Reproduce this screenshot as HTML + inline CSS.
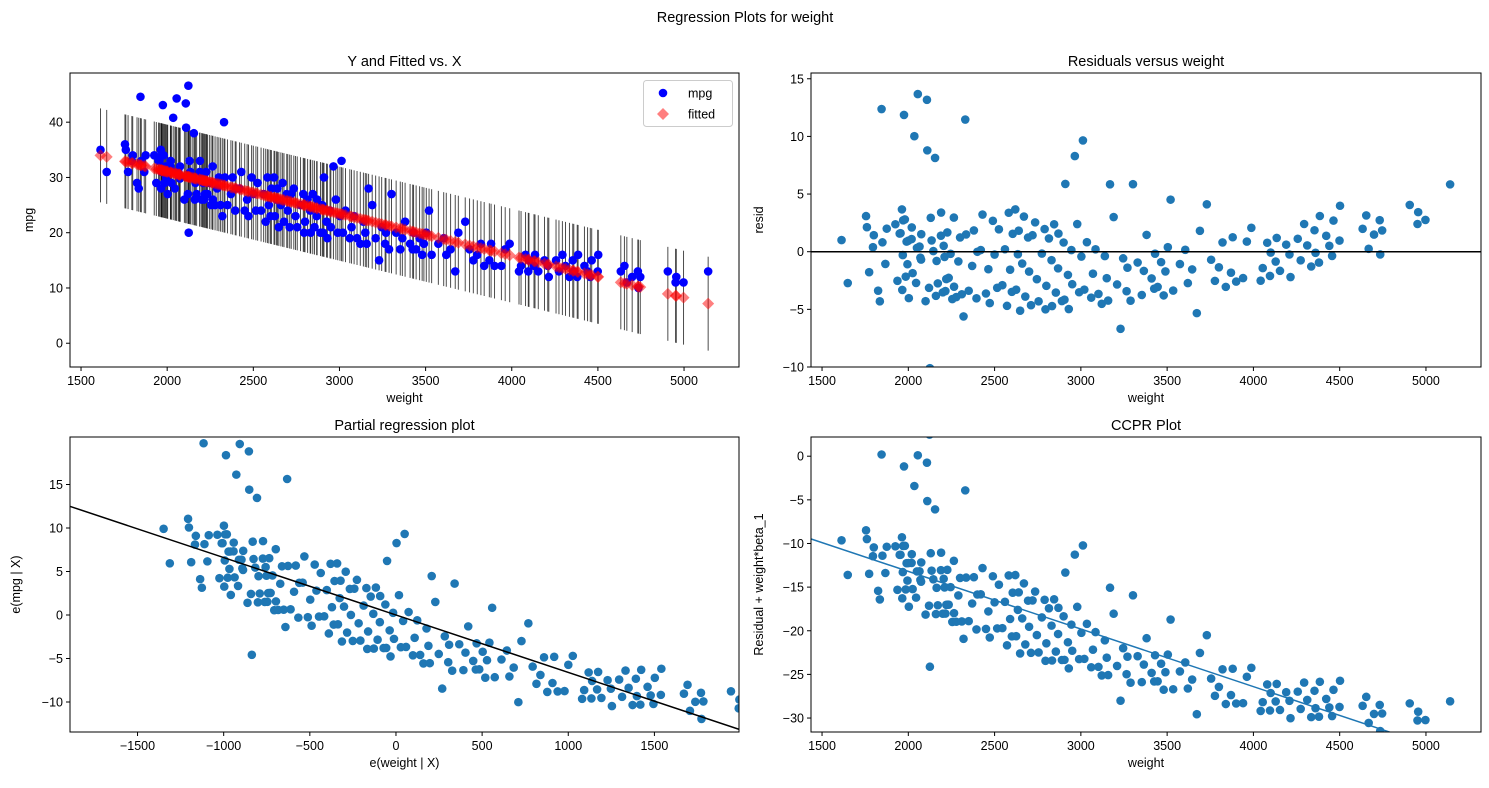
<!DOCTYPE html>
<html><head><meta charset="utf-8">
<style>
html,body{margin:0;padding:0;background:#fff;overflow:hidden;width:1489px;height:788px;}
svg{display:block;font-family:"Liberation Sans","DejaVu Sans",sans-serif;}
</style></head>
<body>
<svg id="fig" width="1489" height="788" viewBox="0 0 1489 788" xmlns="http://www.w3.org/2000/svg">
<rect width="1489" height="788" fill="#fff"/>
<text x="745" y="22" font-size="14.5" text-anchor="middle">Regression Plots for weight</text>
</svg>
<script>
// auto-mpg style data: weight, mpg
const weights = [1613,1649,1755,1760,1773,1795,1800,1825,1835,1845,1850,1867,1875,1925,1937,1950,1955,1963,1965,1968,1970,1975,1980,1985,1990,1995,2000,2003,2019,2020,2025,2035,2045,2050,2055,2065,2070,2074,2075,2100,2108,2110,2120,2123,2125,2130,2135,2145,2155,2160,2164,2171,2189,2190,2200,2205,2210,2215,2220,2226,2228,2234,2245,2255,2264,2265,2278,2290,2300,2310,2320,2330,2335,2350,2370,2380,2395,2400,2420,2430,2450,2464,2472,2490,2500,2515,2525,2545,2560,2572,2582,2590,2600,2605,2620,2625,2635,2640,2648,2660,2670,2678,2694,2700,2711,2720,2735,2745,2755,2774,2790,2795,2800,2815,2830,2833,2845,2855,2868,2870,2890,2900,2905,2910,2925,2930,2945,2950,2965,2979,2990,3003,3012,3020,3035,3060,3070,3085,3102,3121,3139,3150,3158,3169,3190,3210,3230,3245,3265,3270,3288,3302,3329,3353,3365,3381,3410,3425,3430,3445,3465,3480,3490,3504,3520,3535,3574,3605,3620,3645,3672,3690,3730,3755,3777,3800,3821,3840,3870,3880,3900,3940,3962,3988,4042,4054,4080,4096,4100,4129,4135,4154,4190,4209,4215,4257,4274,4294,4312,4335,4354,4360,4380,4385,4422,4440,4456,4464,4499,4502,4633,4654,4668,4699,4732,4735,4746,4906,4951,4955,4997,5140];
const mpgs = [35,31,36,35,31,33,34,29,28,44.6,33,31,34,34,29,33,33,35,28,31,34,43.1,34,29,32,30,32,27,32,33,29,40.8,28,31,44.3,31,30,29.8,32,26,43.4,39,27,46.6,20,33,31,30,38,26,29,27,31,33,26,30,29,26,27,31,27,27,29,25,32,26,25,28,30,25,23,40,30,25,27,30,24,28,28,31,24,26,23,30,27,24,29,24,27,22,30,25,23,28,30,23,26,28,21,25,29,22,27,24,21,27,28,23,21,25,27,20,22,26,24,20,27,21,23,26,20,25,20,30,22,19,24,21,32,26,20,23,33,20,24,19,21,23,19,18,22,20,18,28,25,19,15,21,18,20,17,27,20,17,19,22,18,17,20,17,19,16,18,20,24,16,18,19,16,17,13,20,22,17,15,16,18,14,15,18,14,14,17,18,13,14,16,13,15,14,16,13,15,14,12,15,13,16,14,12,15,13,12,16,14,13,12,15,13,16,13,14,11,12,13,10,12,13,11,12,11,13];
// model coefficient of weight in the multivariate fit (partial slope)
const betaPartial = -0.0066;
const xTicksW = [1500,2000,2500,3000,3500,4000,4500,5000];
const yTicksMpg = [0,10,20,30,40];
const yTicksResid = [-10,-5,0,5,10,15];
const xTicksPart = [-1500,-1000,-500,0,500,1000,1500];
const yTicksPart = [-10,-5,0,5,10,15];
const yTicksCcpr = [0,-5,-10,-15,-20,-25,-30];

const NS='http://www.w3.org/2000/svg';
const fig=document.getElementById('fig');
function mk(tag,attrs,parent){const e=document.createElementNS(NS,tag);for(const k in attrs)e.setAttribute(k,attrs[k]);(parent||fig).appendChild(e);return e;}

// OLS
const n=weights.length;
let mw=0,mm=0;for(let i=0;i<n;i++){mw+=weights[i];mm+=mpgs[i];}mw/=n;mm/=n;
let sxy=0,sxx=0;for(let i=0;i<n;i++){sxy+=(weights[i]-mw)*(mpgs[i]-mm);sxx+=(weights[i]-mw)**2;}
const beta=sxy/sxx, alpha=mm-beta*mw;
const fitted=weights.map(w=>alpha+beta*w);
const resid=mpgs.map((m,i)=>m-fitted[i]);

function axes(o){
  const g=mk('g',{});
  const sx=v=>o.x0+(v-o.xmin)/(o.xmax-o.xmin)*(o.x1-o.x0);
  const sy=v=>o.y1-(v-o.ymin)/(o.ymax-o.ymin)*(o.y1-o.y0);
  const cid='clip-'+o.name;
  const cp=mk('clipPath',{id:cid},g);mk('rect',{x:o.x0,y:o.y0,width:o.x1-o.x0,height:o.y1-o.y0},cp);
  const plot=mk('g',{'clip-path':'url(#'+cid+')'},g);
  
  o.draw(plot,sx,sy);
  mk('rect',{x:o.x0,y:o.y0,width:o.x1-o.x0,height:o.y1-o.y0,fill:'none',stroke:'#000','stroke-width':1},g);
  o.xticks.forEach(t=>{const X=sx(t);mk('line',{x1:X,x2:X,y1:o.y1,y2:o.y1+4,stroke:'#000'},g);
    const tx=mk('text',{x:X,y:o.y1+18,'font-size':12.5,'text-anchor':'middle'},g);tx.textContent=String(t).replace('-','−');
    });
  o.yticks.forEach(t=>{const Y=sy(t);mk('line',{x1:o.x0-4,x2:o.x0,y1:Y,y2:Y,stroke:'#000'},g);
    const tx=mk('text',{x:o.x0-7,y:Y+4.5,'font-size':12.5,'text-anchor':'end'},g);tx.textContent=String(t).replace('-','−');
    });
  const ti=mk('text',{x:(o.x0+o.x1)/2,y:o.y0-7,'font-size':14.5,'text-anchor':'middle'},g);ti.textContent=o.title;
  
  const xl=mk('text',{x:(o.x0+o.x1)/2,y:o.y1+35,'font-size':12.5,'text-anchor':'middle'},g);xl.textContent=o.xlabel;
  
  const yc=(o.y0+o.y1)/2;
  const yl=mk('text',{x:o.ylx,y:yc,'font-size':12.5,'text-anchor':'middle',transform:`rotate(-90 ${o.ylx} ${yc})`},g);yl.textContent=o.ylabel;
  
  return g;
}
function dot(p,x,y,fill){const c=mk('circle',{cx:x,cy:y,r:4.3,fill:fill},p);return c;}

// Panel 1
axes({name:'y-fitted-vs-x',x0:70,x1:739,y0:73,y1:367,xmin:1436,xmax:5319,ymin:-4.3,ymax:48.9,xticks:xTicksW,yticks:yTicksMpg,
 title:'Y and Fitted vs. X',xlabel:'weight',ylabel:'mpg',ylx:33,
 draw:(p,sx,sy)=>{
  weights.forEach((w,i)=>{const l=mk('line',{x1:sx(w),x2:sx(w),y1:sy(fitted[i]-8.5),y2:sy(fitted[i]+8.5),stroke:'#000','stroke-opacity':0.7,'stroke-width':1},p);
    });
  weights.forEach((w,i)=>dot(p,sx(w),sy(mpgs[i]),'#0000ff'));
  weights.forEach((w,i)=>{const X=sx(w),Y=sy(fitted[i]);const d=mk('polygon',{points:`${X},${Y-6} ${X+6},${Y} ${X},${Y+6} ${X-6},${Y}`,fill:'#ff0000','fill-opacity':0.5},p);
    });
 }});
(function(){const g=mk('g',{});
 mk('rect',{x:643.5,y:80.5,width:89,height:46,rx:3,fill:'#fff','fill-opacity':0.8,stroke:'#ccc'},g);
 mk('circle',{cx:663,cy:93,r:4.3,fill:'#0000ff'},g);
 mk('polygon',{points:'663,108 669,114 663,120 657,114',fill:'#ff0000','fill-opacity':0.5},g);
 const t1=mk('text',{x:688,y:97.5,'font-size':12.5},g);t1.textContent='mpg';
 const t2=mk('text',{x:688,y:118.5,'font-size':12.5},g);t2.textContent='fitted';
})();

// Panel 2
axes({name:'residuals-vs-weight',x0:811,x1:1481,y0:73,y1:367,xmin:1436,xmax:5319,ymin:-10,ymax:15.5,xticks:xTicksW,yticks:yTicksResid,
 title:'Residuals versus weight',xlabel:'weight',ylabel:'resid',ylx:763,
 draw:(p,sx,sy)=>{
  weights.forEach((w,i)=>dot(p,sx(w),sy(resid[i]),'#1f77b4'));
  const l=mk('line',{x1:811,x2:1481,y1:sy(0),y2:sy(0),stroke:'#000','stroke-width':1.5},p);
 }});

// Panel 3
axes({name:'partial-regression',x0:70,x1:739,y0:437,y1:732,xmin:-1892,xmax:1991,ymin:-13.45,ymax:20.46,xticks:xTicksPart,yticks:yTicksPart,
 title:'Partial regression plot',xlabel:'e(weight | X)',ylabel:'e(mpg | X)',ylx:20,
 draw:(p,sx,sy)=>{
  weights.forEach((w,i)=>dot(p,sx(w-mw),sy(resid[i]+betaPartial*(w-mw)),'#1f77b4'));
  const l=mk('line',{x1:sx(-2500),x2:sx(2500),y1:sy(-2500*betaPartial),y2:sy(2500*betaPartial),stroke:'#000','stroke-width':1.5},p);
 }});

// Panel 4
axes({name:'ccpr-plot',x0:811,x1:1481,y0:437,y1:732,xmin:1436,xmax:5319,ymin:-31.6,ymax:2.2,xticks:xTicksW,yticks:yTicksCcpr,
 title:'CCPR Plot',xlabel:'weight',ylabel:'Residual + weight*beta_1',ylx:763,
 draw:(p,sx,sy)=>{
  weights.forEach((w,i)=>dot(p,sx(w),sy(resid[i]+betaPartial*w),'#1f77b4'));
  const l=mk('line',{x1:sx(1300),x2:sx(5400),y1:sy(betaPartial*1300),y2:sy(betaPartial*5400),stroke:'#1f77b4','stroke-width':1.5},p);
 }});
</script>
</body></html>
